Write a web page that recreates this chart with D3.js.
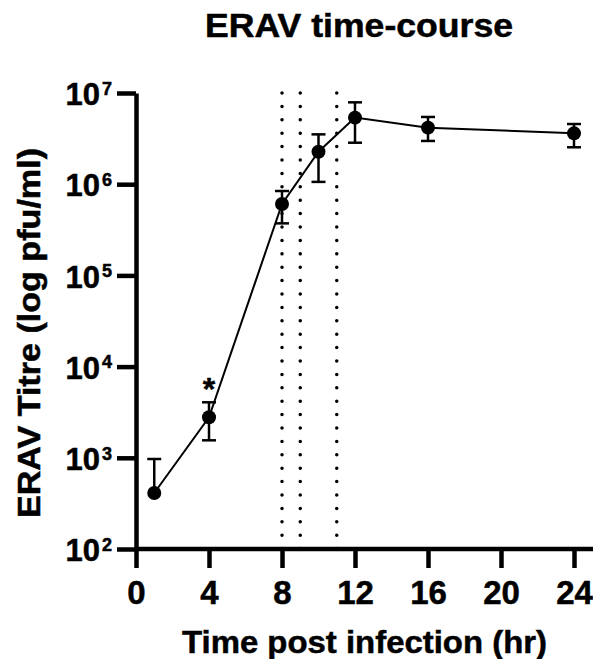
<!doctype html>
<meta charset="utf-8">

<style>
  body { margin: 0; background: #fff; }
  svg {
    display: block;
    font-family: "Liberation Sans", Arial, sans-serif;
    font-weight: bold;
  }
  svg text { stroke: #000; stroke-width: 0.5; }
  .axis path, .axis line { stroke: #000; stroke-width: 4.5; }
  .axis text { fill: #000; font-family: "Liberation Sans", Arial, sans-serif; font-weight: bold; }
  .trace { fill: none; stroke: #000; stroke-width: 2; }
  .err { stroke: #000; stroke-width: 2.5; }
  .marker { stroke: #000; stroke-width: 3.5; stroke-dasharray: 0 13.4; stroke-linecap: round; }
</style>

<svg id="chart" width="593" height="659"></svg>

<script src="https://d3js.org/d3.v7.min.js"></script>

<script>
  // time-course readings (mean with upper / lower error)
  const hours     = [1, 4, 8, 10, 12, 16, 24];
  const titre     = [411, 2780, 607000, 2270000, 5370000, 4170000, 3610000];
  const titreHigh = [970, 4060, 842000, 3520000, 7900000, 5460000, 4570000];
  const titreLow  = [null, 1555, 372000, 1060000, 2850000, 2980000, 2540000];

  const markerHours = [8, 9, 11];   // dotted vertical lines
  const starHours = [4];            // significance

  const xTicks = [0, 4, 8, 12, 16, 20, 24];
  const yTicks = [1e2, 1e3, 1e4, 1e5, 1e6, 1e7];

  const W = 593, H = 659;
  const plotLeft = 136, plotRight = 574, plotTop = 93, plotBottom = 549;

  let svg = d3.select("#chart");

  let x = d3.scaleLinear().domain([0, 24]).range([plotLeft, plotRight]);
  let y = d3.scaleLog().domain([1e2, 1e7]).range([plotBottom, plotTop]);

  let rows = hours.map((h, i) => ({h: h, v: titre[i], hi: titreHigh[i], lo: titreLow[i]}));

  // dotted lines
  svg.selectAll(".marker")
    .data(markerHours)
    .enter()
    .append("line")
    .attr("class", "marker")
    .attr("x1", d => x(d)).attr("x2", d => x(d))
    .attr("y1", y(1e7)).attr("y2", y(1e2));

  // x axis
  let xg = svg.append("g")
    .attr("class", "axis")
    .attr("transform", `translate(0,${plotBottom})`)
    .call(d3.axisBottom(x).tickValues(xTicks).tickSize(19).tickSizeOuter(0));
  xg.select(".domain").attr("d", `M${plotLeft},0H${W + 10}`);
  xg.selectAll(".tick text")
    .attr("y", 55).attr("dy", null)
    .style("font-size", "33px");

  // y axis
  let yg = svg.append("g")
    .attr("class", "axis")
    .attr("transform", `translate(${plotLeft},0)`)
    .call(d3.axisLeft(y).tickValues(yTicks).tickSize(19).tickSizeOuter(0));
  yg.selectAll(".tick text").each(function(d) {
    let t = d3.select(this).text("").attr("x", -24).attr("dy", null);
    t.append("tspan").attr("dy", 11.7).style("font-size", "31px").text("10");
    t.append("tspan").attr("dy", -10.5).attr("dx", 2).style("font-size", "18px")
      .text(Math.round(Math.log10(d)));
  });

  // error bars
  let eb = svg.append("g");
  rows.forEach(r => {
    let lo = r.lo == null ? r.v : r.lo;
    eb.append("line").attr("class", "err")
      .attr("x1", x(r.h)).attr("x2", x(r.h))
      .attr("y1", y(r.hi)).attr("y2", y(lo));
    eb.append("line").attr("class", "err")
      .attr("x1", x(r.h) - 7).attr("x2", x(r.h) + 7)
      .attr("y1", y(r.hi)).attr("y2", y(r.hi));
    if (r.lo != null)
      eb.append("line").attr("class", "err")
        .attr("x1", x(r.h) - 7).attr("x2", x(r.h) + 7)
        .attr("y1", y(r.lo)).attr("y2", y(r.lo));
  });

  // line + points
  svg.append("path")
    .datum(rows)
    .attr("class", "trace")
    .attr("d", d3.line().x(d => x(d.h)).y(d => y(d.v)));

  svg.selectAll(".pt")
    .data(rows)
    .enter()
    .append("circle")
    .attr("class", "pt")
    .attr("cx", d => x(d.h))
    .attr("cy", d => y(d.v))
    .attr("r", 7)
    .attr("fill", "#000");

  // asterisk
  svg.selectAll(".star")
    .data(rows.filter(r => starHours.includes(r.h)))
    .enter()
    .append("text")
    .attr("class", "star")
    .attr("x", d => x(d.h))
    .attr("y", d => y(d.hi) - 2.5)
    .attr("text-anchor", "middle")
    .style("font-size", "32px")
    .text("*");

  // titles
  svg.append("text")
    .attr("x", 359).attr("y", 36.7)
    .attr("text-anchor", "middle")
    .attr("textLength", 308).attr("lengthAdjust", "spacingAndGlyphs")
    .style("font-size", "33px")
    .text("ERAV time-course");

  svg.append("text")
    .attr("x", 364.5).attr("y", 653)
    .attr("text-anchor", "middle")
    .attr("textLength", 365).attr("lengthAdjust", "spacingAndGlyphs")
    .style("font-size", "32px")
    .text("Time post infection (hr)");

  svg.append("text")
    .attr("transform", "translate(40,333) rotate(-90)")
    .attr("text-anchor", "middle")
    .attr("textLength", 370).attr("lengthAdjust", "spacingAndGlyphs")
    .style("font-size", "32px")
    .text("ERAV Titre (log pfu/ml)");
</script>
